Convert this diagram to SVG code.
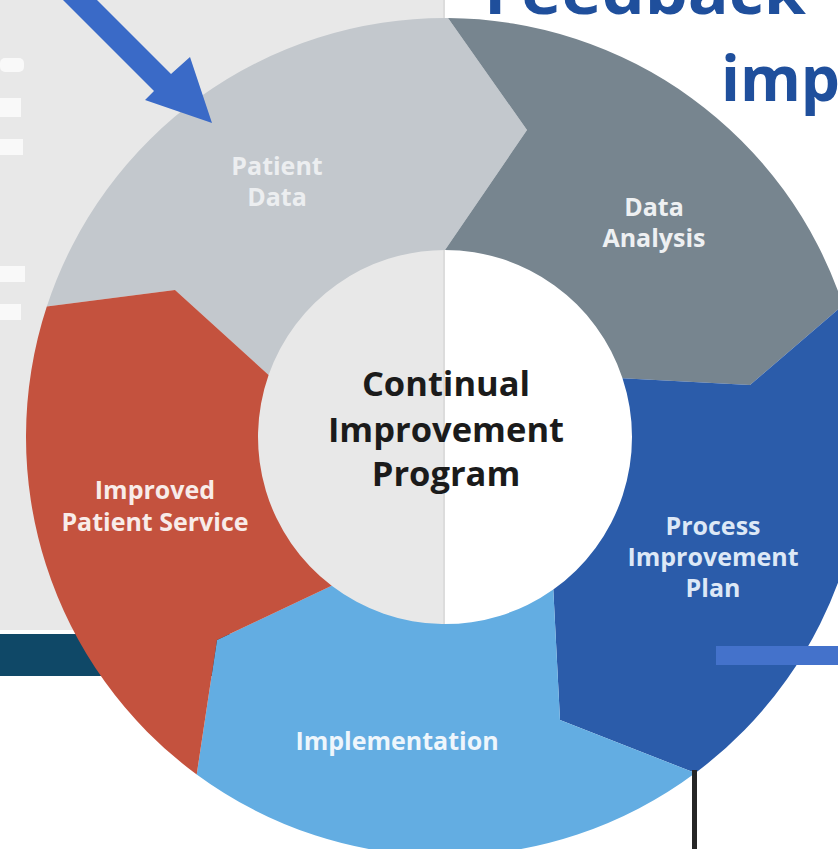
<svg xmlns="http://www.w3.org/2000/svg" width="838" height="849" viewBox="0 0 838 849">
  <style>
    .lbl { font-family: "Open Sans", "Noto Sans", "DejaVu Sans", sans-serif; font-weight: 700; font-size: 25px; text-anchor: middle; }
    .ctr { font-family: "Open Sans", "Noto Sans", "DejaVu Sans", sans-serif; font-weight: 700; font-size: 34.5px; text-anchor: middle; fill: #1b1b1b; }
    .ttl { font-family: "Open Sans", "Noto Sans", "DejaVu Sans", sans-serif; font-weight: 700; font-size: 62px; fill: #1f4f9c; }
    .tick { fill: #f9f9f9; }
  </style>
  <!-- background -->
  <rect x="0" y="0" width="838" height="849" fill="#ffffff"/>
  <rect x="0" y="0" width="444" height="630" fill="#e8e8e8"/>
  <rect x="443" y="0" width="2" height="630" fill="#dcdcdc"/>
  <rect x="0" y="634" width="445" height="42" fill="#0f4867"/>
  <g id="left-ticks">
    <rect class="tick" x="0" y="58" width="24" height="14" rx="5"/>
    <rect class="tick" x="0" y="98" width="21" height="19"/>
    <rect class="tick" x="0" y="139" width="23" height="16"/>
    <rect class="tick" x="0" y="266" width="25" height="16"/>
    <rect class="tick" x="0" y="304" width="21" height="16"/>
  </g>
  <!-- title -->
  <g id="title">
    <text class="ttl" x="484" y="14" textLength="322" lengthAdjust="spacingAndGlyphs">Feedback</text>
    <text class="ttl" x="721" y="101">imp</text>
  </g>
  <!-- cycle segments -->
  <g id="patient-data">
    <path d="M46.8 306.6 A419 419 0 0 1 448 18 L527 130 L445 250 A187 187 0 0 0 268.6 375 L175 290 Z" fill="#c3c8cd"/>
    <text class="lbl" fill="#eceef0" x="277" y="175">Patient</text>
    <text class="lbl" fill="#eceef0" x="277" y="206">Data</text>
  </g>
  <g id="data-analysis">
    <path d="M448 18 A419 419 0 0 1 843 305.3 L750 385 L622.5 378.2 A187 187 0 0 0 445 250 L527 130 Z" fill="#77858f"/>
    <text class="lbl" fill="#eef0f2" x="654" y="216">Data</text>
    <text class="lbl" fill="#eef0f2" x="654" y="247">Analysis</text>
  </g>
  <g id="process-improvement-plan">
    <path d="M843 305.3 A419 419 0 0 1 695.3 773 L560 720 L553.3 589.5 A187 187 0 0 0 622.5 378.2 L750 385 Z" fill="#2b5caa"/>
    <text class="lbl" fill="#dde8f6" x="713" y="535">Process</text>
    <text class="lbl" fill="#dde8f6" x="713" y="566">Improvement</text>
    <text class="lbl" fill="#dde8f6" x="713" y="597">Plan</text>
  </g>
  <g id="implementation">
    <path d="M695.3 773 A419 419 0 0 1 196.7 774.5 L217 640 L331.7 585.8 A187 187 0 0 0 553.3 589.5 L560 720 Z" fill="#63ade2"/>
    <text class="lbl" fill="#eef6fc" x="397" y="750">Implementation</text>
  </g>
  <g id="improved-patient-service">
    <path d="M196.7 774.5 A419 419 0 0 1 46.8 306.6 L175 290 L268.6 375 A187 187 0 0 0 331.7 585.8 L217 640 Z" fill="#c4523e"/>
    <text class="lbl" fill="#f8ece9" x="155" y="499">Improved</text>
    <text class="lbl" fill="#f8ece9" x="155" y="531">Patient Service</text>
  </g>
  <g id="center">
    <circle cx="445" cy="437" r="187" fill="none"/>
    <text class="ctr" x="446" y="396">Continual</text>
    <text class="ctr" x="446" y="442">Improvement</text>
    <text class="ctr" x="446" y="486">Program</text>
  </g>
  <!-- connectors -->
  <g id="connectors">
    <polygon points="63,0 154,91 145,100 212,123 190,57 171,74 97,0" fill="#3a6ac7"/>
    <rect x="716" y="646" width="122" height="19" fill="#4472cb"/>
    <rect x="692" y="770" width="5" height="79" fill="#262626"/>
  </g>
</svg>
